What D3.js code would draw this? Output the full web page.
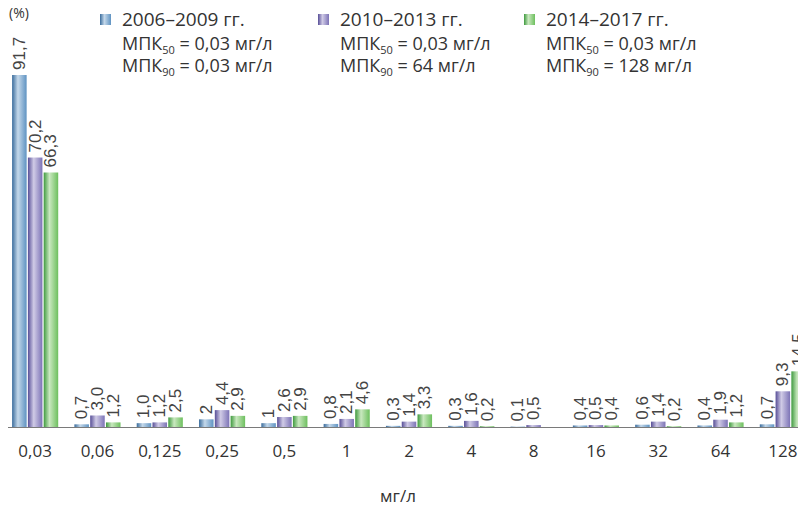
<!DOCTYPE html>
<html>
<head>
<meta charset="utf-8">
<script src="https://cdn.jsdelivr.net/npm/d3@7"></script>
<style>
   body { margin: 0; background: #fff; }
   svg { display: block; }
</style>
</head>
<body>
<div id="chart"></div>
<script>

// CATEGORIES (MIC, mg/l)
var categories = ['0,03', '0,06', '0,125', '0,25', '0,5', '1', '2', '4', '8', '16', '32', '64', '128'];

// SERIES VALUES AS PRINTED ON THE CHART (%)
var s2006 = ['91,7', '0,7', '1,0', '2', '1', '0,8', '0,3', '0,3', '0,1', '0,4', '0,6', '0,4', '0,7'];
var s2010 = ['70,2', '3,0', '1,2', '4,4', '2,6', '2,1', '1,4', '1,6', '0,5', '0,5', '1,4', '1,9', '9,3'];
var s2014 = ['66,3', '1,2', '2,5', '2,9', '2,9', '4,6', '3,3', '0,2', '', '0,4', '0,2', '1,2', '14,5'];

// LEGEND TEXTS
var seriesNames = ['2006–2009 гг.', '2010–2013 гг.', '2014–2017 гг.'];
var mpk50 = ['0,03', '0,03', '0,03'];
var mpk90 = ['0,03', '64', '128'];

// SETTINGS
var settings = {
   width: 798,
   height: 515,
   baseline: 427,
   top: 75,
   font: "'Open Sans', 'DejaVu Sans', sans-serif",
   labelFont: "'Liberation Sans', Arial, sans-serif",
   colors: [
      { dark: '#3a6c9c', light: '#c4d8ea', mid: '#5f93c2' },
      { dark: '#574e97', light: '#d0cbe6', mid: '#7c73b6' },
      { dark: '#3f9a3f', light: '#c9e8bf', mid: '#6dbf5e' }
   ],
   legendX: [100, 318, 524]
}

// PARSE "0,7" STRINGS INTO NUMBERS
function num(s) { return s === '' ? null : +s.replace(',', '.'); }

var series = [s2006, s2010, s2014];
var rows = categories.map((c, i) => {
   return { cat: c, vals: series.map((s, k) => { return { k: k, label: s[i], v: num(s[i]) } }) }
})

// GENERATE CANVAS
var svg = d3.select('#chart').append('svg')
   .attr('width', settings.width)
   .attr('height', settings.height)

// GRADIENTS FOR CYLINDER-LIKE BARS
var defs = svg.append('defs')
settings.colors.forEach((c, k) => {
   var g = defs.append('linearGradient')
      .attr('id', 'grad' + k)
      .attr('x1', 0).attr('x2', 1).attr('y1', 0).attr('y2', 0)
   g.append('stop').attr('offset', '0%').attr('stop-color', c.dark)
   g.append('stop').attr('offset', '40%').attr('stop-color', c.light)
   g.append('stop').attr('offset', '100%').attr('stop-color', c.mid)
})

// X-SCALING
var x0 = d3.scaleBand()
   .domain(categories)
   .range([4, 814])
   .paddingInner(0.26)
   .paddingOuter(0.13)

var x1 = d3.scaleBand()
   .domain([0, 1, 2])
   .range([0, x0.bandwidth()])
   .paddingInner(0.08)

// Y-SCALING
var y = d3.scaleLinear()
   .domain([0, 91.7])
   .range([settings.baseline, settings.top])

// BARS
var groups = svg.selectAll('g.grp')
   .data(rows)
   .enter().append('g')
      .attr('class', 'grp')
      .attr('transform', (d) => { return 'translate(' + x0(d.cat) + ',0)' })

groups.selectAll('rect')
   .data((d) => { return d.vals.filter((v) => { return v.v !== null }) })
   .enter().append('rect')
      .attr('x', (d) => { return x1(d.k) })
      .attr('y', (d) => { return y(d.v) })
      .attr('width', x1.bandwidth())
      .attr('height', (d) => { return settings.baseline - y(d.v) })
      .attr('fill', (d) => { return 'url(#grad' + d.k + ')' })

// VALUE LABELS (ROTATED)
groups.selectAll('text')
   .data((d) => { return d.vals.filter((v) => { return v.v !== null }) })
   .enter().append('text')
      .attr('transform', (d) => {
         return 'translate(' + (x1(d.k) + x1.bandwidth() / 2) + ',' + (y(d.v) - 5) + ') rotate(-90)'
      })
      .attr('dominant-baseline', 'central')
      .attr('font-family', settings.labelFont)
      .attr('font-size', 17)
      .attr('fill', '#444')
      .text((d) => { return d.label })

// BASELINE
svg.append('line')
   .attr('x1', 8).attr('x2', settings.width)
   .attr('y1', settings.baseline + 0.5).attr('y2', settings.baseline + 0.5)
   .attr('stroke', '#7a7a7a')
   .attr('stroke-width', 1)

// X AXIS LABELS
var xAxis = svg.append('g')
   .attr('transform', 'translate(0,' + (settings.baseline + 18) + ')')
   .call(d3.axisBottom(x0).tickSize(0).tickPadding(0))
xAxis.select('.domain').remove()
xAxis.selectAll('text')
   .attr('font-family', settings.font)
   .attr('font-size', 17)
   .attr('fill', '#333')

svg.append('text')
   .attr('x', 398).attr('y', 502)
   .attr('text-anchor', 'middle')
   .attr('font-family', settings.font)
   .attr('font-size', 17)
   .attr('fill', '#333')
   .text('мг/л')

// UNIT LABEL
svg.append('text')
   .attr('x', 9).attr('y', 18)
   .attr('font-family', settings.font)
   .attr('font-size', 14)
   .attr('fill', '#333')
   .text('(%)')

// LEGEND
var legend = svg.selectAll('g.leg')
   .data(seriesNames)
   .enter().append('g')
      .attr('class', 'leg')
      .attr('transform', (d, i) => { return 'translate(' + settings.legendX[i] + ',0)' })

legend.append('rect')
   .attr('x', 0).attr('y', 14)
   .attr('width', 11).attr('height', 11)
   .attr('fill', (d, i) => { return 'url(#grad' + i + ')' })

legend.append('text')
   .attr('x', 22).attr('y', 26)
   .attr('font-family', settings.font)
   .attr('font-size', 19)
   .attr('fill', '#333')
   .text((d) => { return d })

function mpkLine(sel, sub, vals, yPos) {
   var t = sel.append('text')
      .attr('x', 22).attr('y', yPos)
      .attr('font-family', settings.font)
      .attr('font-size', 18)
      .attr('fill', '#333')
   t.append('tspan').text('МПК')
   t.append('tspan').attr('font-size', 11).attr('dy', 4).text(sub)
   t.append('tspan').attr('dy', -4).text((d, i) => { return ' = ' + vals[i] + ' мг/л' })
}

mpkLine(legend, '50', mpk50, 50)
mpkLine(legend, '90', mpk90, 72)

</script>
</body>
</html>
